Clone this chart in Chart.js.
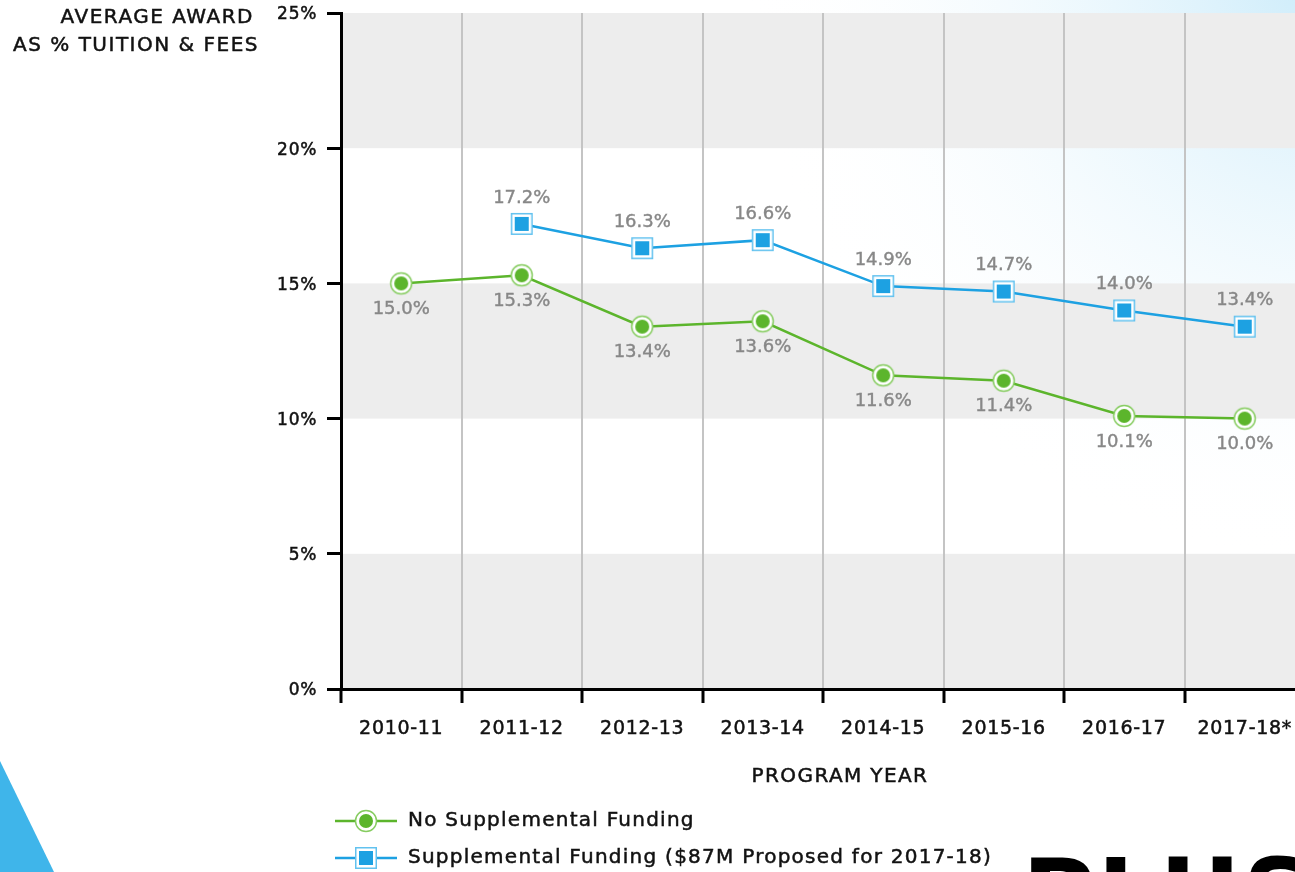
<!DOCTYPE html>
<html>
<head>
<meta charset="utf-8">
<script src="https://cdn.jsdelivr.net/npm/chart.js@4.4.1/dist/chart.umd.min.js"></script>
<style>
  html, body { margin: 0; padding: 0; overflow: hidden; background: #fff; width: 1295px; height: 872px; }
  #wrap { position: relative; width: 1310px; height: 872px; }
  #bigword { position: absolute; left: 1022px; top: 846px; font: bold 100px "DejaVu Sans"; line-height: 1; color: #000; white-space: nowrap; letter-spacing: 2px; }
</style>
</head>
<body>
<div id="wrap">
  <canvas id="chart" width="1310" height="872"></canvas>
  <div id="bigword">PLUS</div>
</div>
<script>
// chart data
const programYears = ['2010-11', '2011-12', '2012-13', '2013-14', '2014-15', '2015-16', '2016-17', '2017-18*'];
const noSupplemental = [15.0, 15.3, 13.4, 13.6, 11.6, 11.4, 10.1, 10.0];
const supplemental = [null, 17.2, 16.3, 16.6, 14.9, 14.7, 14.0, 13.4];
const yTicks = [0, 5, 10, 15, 20, 25];
const grayBands = [[0, 5], [10, 15], [20, 25]];

const GREEN = '#5cb52c';
const BLUE = '#1da1e2';
const FONT = '"DejaVu Sans", sans-serif';

// marker images used as point styles (and in the legend)
function makeMarker(kind) {
  const c = document.createElement('canvas');
  c.width = 26; c.height = 26;
  const g = c.getContext('2d');
  if (kind === 'circle') {
    g.fillStyle = '#fff';
    g.strokeStyle = '#86cc60';
    g.lineWidth = 1.5;
    g.beginPath(); g.arc(13, 13, 10.5, 0, Math.PI * 2); g.fill(); g.stroke();
    g.fillStyle = GREEN;
    g.beginPath(); g.arc(13, 13, 7, 0, Math.PI * 2); g.fill();
  } else {
    g.fillStyle = '#fff';
    g.fillRect(2.5, 2.5, 21, 21);
    g.strokeStyle = '#62c2ef';
    g.lineWidth = 1.5;
    g.strokeRect(2.75, 2.75, 20.5, 20.5);
    g.fillStyle = BLUE;
    g.fillRect(6, 6, 14, 14);
  }
  return c;
}
const circleMarker = makeMarker('circle');
const squareMarker = makeMarker('square');

// slightly heavier canvas text, closer to the original medium weight
function heavyText(ctx, text, x, y, w) {
  ctx.lineWidth = w;
  ctx.strokeStyle = ctx.fillStyle;
  ctx.strokeText(text, x, y);
  ctx.fillText(text, x, y);
}

// background, gray bands, decorations
const backdrop = {
  id: 'backdrop',
  beforeDraw(chart) {
    const { ctx, chartArea: a, scales: { y } } = chart;
    ctx.save();
    ctx.fillStyle = '#fff';
    ctx.fillRect(0, 0, chart.width, chart.height);
    const grad = ctx.createRadialGradient(1340, -30, 0, 1340, -30, 600);
    grad.addColorStop(0, 'rgba(200,234,250,1)');
    grad.addColorStop(1, 'rgba(255,255,255,0)');
    ctx.fillStyle = grad;
    ctx.fillRect(0, 0, chart.width, 690);

    ctx.fillStyle = '#ededed';
    grayBands.forEach(([lo, hi]) => {
      const top = y.getPixelForValue(hi);
      const bot = y.getPixelForValue(lo);
      ctx.fillRect(a.left, top, a.right - a.left, bot - top);
    });

    // blue swoosh bottom left
    ctx.fillStyle = '#3fb5ea';
    ctx.beginPath();
    ctx.moveTo(0, 761);
    ctx.lineTo(54, 872);
    ctx.lineTo(0, 872);
    ctx.closePath();
    ctx.fill();
    ctx.restore();
    // a bit of tracking for the axis text
    ctx.letterSpacing = '0.7px';
  }
};

// value labels next to points
const valueLabels = {
  id: 'valueLabels',
  afterDatasetsDraw(chart) {
    const { ctx } = chart;
    ctx.save();
    ctx.letterSpacing = '0px';
    ctx.font = '18px ' + FONT;
    ctx.fillStyle = '#878787';
    ctx.textAlign = 'center';
    ctx.textBaseline = 'middle';
    chart.data.datasets.forEach((ds, i) => {
      const meta = chart.getDatasetMeta(i);
      const off = i === 0 ? 26 : -26;
      meta.data.forEach((pt, j) => {
        const v = ds.data[j];
        if (v == null) return;
        heavyText(ctx, v.toFixed(1) + '%', pt.x, pt.y + off, 0.4);
      });
    });
    ctx.restore();
  }
};

// axis titles + legend
const extras = {
  id: 'extras',
  afterDraw(chart) {
    const { ctx } = chart;
    ctx.save();
    ctx.fillStyle = '#111';
    ctx.font = '20px ' + FONT;
    ctx.letterSpacing = '1.5px';
    ctx.textBaseline = 'middle';

    ctx.textAlign = 'right';
    heavyText(ctx, 'AVERAGE AWARD', 254, 18, 0.5);
    heavyText(ctx, 'AS % TUITION & FEES', 259, 46, 0.5);

    ctx.letterSpacing = '1.4px';
    ctx.textAlign = 'center';
    heavyText(ctx, 'PROGRAM YEAR', 840, 777, 0.5);

    // legend
    const items = [
      { text: 'No Supplemental Funding', color: GREEN, marker: circleMarker, y: 821 },
      { text: 'Supplemental Funding ($87M Proposed for 2017-18)', color: BLUE, marker: squareMarker, y: 858 }
    ];
    ctx.letterSpacing = '1.25px';
    ctx.textAlign = 'left';
    items.forEach(it => {
      ctx.strokeStyle = it.color;
      ctx.lineWidth = 2.5;
      ctx.beginPath();
      ctx.moveTo(335, it.y);
      ctx.lineTo(397, it.y);
      ctx.stroke();
      ctx.drawImage(it.marker, 366 - 13, it.y - 13);
      ctx.fillStyle = '#111';
      heavyText(ctx, it.text, 408, it.y, 0.5);
    });
    ctx.restore();
  }
};

new Chart(document.getElementById('chart'), {
  type: 'line',
  data: {
    labels: programYears,
    datasets: [
      {
        label: 'No Supplemental Funding',
        data: noSupplemental,
        borderColor: GREEN,
        borderWidth: 2.5,
        pointStyle: circleMarker,
        pointRadius: 11,
        tension: 0
      },
      {
        label: 'Supplemental Funding ($87M Proposed for 2017-18)',
        data: supplemental,
        borderColor: BLUE,
        borderWidth: 2.5,
        pointStyle: squareMarker,
        pointRadius: 11,
        tension: 0
      }
    ]
  },
  options: {
    responsive: false,
    animation: false,
    layout: { autoPadding: false, padding: { top: 13, left: 0, right: 5, bottom: 123 } },
    plugins: {
      legend: { display: false },
      tooltip: { enabled: false }
    },
    scales: {
      x: {
        offset: true,
        afterFit(scale) { scale.height = 60; scale.paddingLeft = 0; scale.paddingRight = 0; },
        grid: {
          offset: true,
          color: '#c4c4c4',
          lineWidth: 2,
          tickColor: '#000',
          tickWidth: 3,
          tickLength: 14
        },
        border: { color: '#000', width: 3 },
        ticks: {
          color: '#111',
          font: { family: FONT, size: 19 },
          textStrokeColor: '#111',
          textStrokeWidth: 0.5,
          padding: 15,
          maxRotation: 0,
          autoSkip: false
        }
      },
      y: {
        min: 0,
        max: 25,
        afterFit(scale) { scale.width = 341; scale.paddingTop = 0; scale.paddingBottom = 0; },
        afterBuildTicks(scale) { scale.ticks = yTicks.map(v => ({ value: v })); },
        grid: {
          drawOnChartArea: false,
          tickColor: '#000',
          tickWidth: 3,
          tickLength: 14
        },
        border: { color: '#000', width: 3 },
        ticks: {
          color: '#111',
          font: { family: FONT, size: 17 },
          textStrokeColor: '#111',
          textStrokeWidth: 0.5,
          padding: 10,
          labelOffset: 2,
          callback: v => v + '%'
        }
      }
    }
  },
  plugins: [backdrop, valueLabels, extras]
});
</script>
</body>
</html>
